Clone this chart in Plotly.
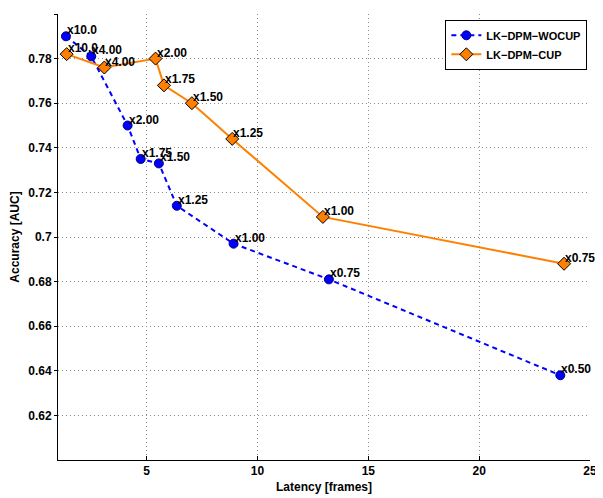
import plotly.graph_objects as go

# Data
wocup_x = [1.36, 2.50, 4.14, 4.73, 5.55, 6.36, 8.92, 13.22, 23.66]
wocup_y = [0.790, 0.781, 0.750, 0.735, 0.733, 0.714, 0.697, 0.681, 0.638]
wocup_labels = ["x10.0", "x4.00", "x2.00", "x1.75", "x1.50", "x1.25", "x1.00", "x0.75", "x0.50"]

cup_x = [1.39, 3.09, 5.40, 5.78, 7.04, 8.86, 12.95, 23.83]
cup_y = [0.782, 0.776, 0.780, 0.768, 0.760, 0.744, 0.709, 0.688]
cup_labels = ["x10.0", "x4.00", "x2.00", "x1.75", "x1.50", "x1.25", "x1.00", "x0.75"]

x_ticks = [5, 10, 15, 20, 25]
y_ticks = [0.62, 0.64, 0.66, 0.68, 0.70, 0.72, 0.74, 0.76, 0.78, 0.80]
y_ticktext = ["0.62", "0.64", "0.66", "0.68", "0.7", "0.72", "0.74", "0.76", "0.78", "0.8"]

FONT = "Liberation Sans, Arial, sans-serif"
BLUE = "#0000ff"
ORANGE = "#ff8000"
GRID = "#8c8c8c"

fig = go.Figure()
fig.add_trace(go.Scatter(
    x=wocup_x, y=wocup_y, mode="lines+markers", name="LK−DPM−WOCUP",
    line=dict(color=BLUE, width=2, dash="5px,4px"),
    marker=dict(symbol="circle", size=9, color=BLUE, line=dict(color="#000080", width=1)),
    cliponaxis=False,
))
fig.add_trace(go.Scatter(
    x=cup_x, y=cup_y, mode="lines+markers", name="LK−DPM−CUP",
    line=dict(color=ORANGE, width=2),
    marker=dict(symbol="diamond", size=10, color=ORANGE, line=dict(color="#000000", width=1)),
    cliponaxis=False,
))

for xs, ys, labs in ((wocup_x, wocup_y, wocup_labels), (cup_x, cup_y, cup_labels)):
    for x, y, t in zip(xs, ys, labs):
        fig.add_annotation(
            x=x, y=y, text=t, showarrow=False, xanchor="left", yanchor="middle",
            xshift=-1, yshift=6,
            font=dict(family=FONT, size=12, color="black", weight="bold"),
        )

# page body has an 8px default margin, so the figure is sized/offset to compensate
fig.update_layout(
    width=595, height=490,
    margin=dict(l=41, r=8, t=6, b=36),
    paper_bgcolor="white", plot_bgcolor="white",
    showlegend=True,
    legend=dict(
        x=0.995, y=0.987, xanchor="right", yanchor="top",
        bgcolor="white", bordercolor="black", borderwidth=1,
        font=dict(family=FONT, size=11, color="black", weight="bold"),
        itemwidth=30, tracegroupgap=0,
    ),
    font=dict(family=FONT, color="black"),
)

fig.update_xaxes(
    range=[1, 25], tickvals=x_ticks, ticktext=[str(v) for v in x_ticks],
    showline=True, linecolor="black", linewidth=1, mirror=False,
    ticks="inside", ticklen=4, tickcolor="black",
    showgrid=True, gridcolor=GRID, gridwidth=1, griddash="1px,3px",
    zeroline=False,
    tickfont=dict(family=FONT, size=12, weight="bold", color="black"),
    title=dict(text="Latency [frames]", standoff=5,
               font=dict(family=FONT, size=12, weight="bold", color="black")),
)
fig.update_yaxes(
    range=[0.6, 0.8], tickvals=y_ticks, ticktext=y_ticktext,
    showline=True, linecolor="black", linewidth=1, mirror=False,
    ticks="outside", ticklen=3, tickcolor="black",
    showgrid=True, gridcolor=GRID, gridwidth=1, griddash="1px,3px",
    zeroline=False,
    tickfont=dict(family=FONT, size=12, weight="bold", color="black"),
    title=dict(text="Accuracy [AUC]", standoff=6,
               font=dict(family=FONT, size=12, weight="bold", color="black")),
)

fig.write_html("out.html")
